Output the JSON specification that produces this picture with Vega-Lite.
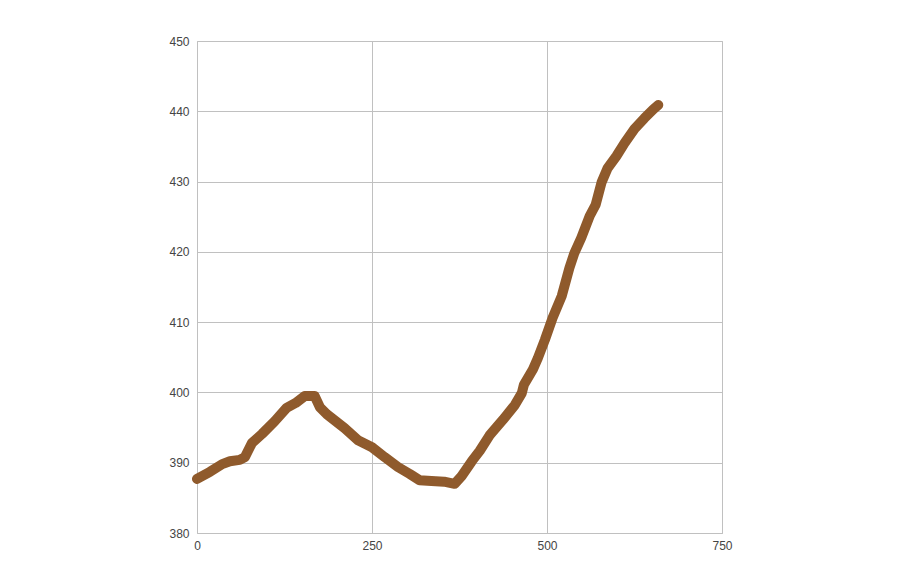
{
  "$schema": "https://vega.github.io/schema/vega-lite/v6.json",
  "autosize": {"type": "none"},
  "padding": {"left": 197, "top": 41, "right": 196, "bottom": 35},
  "width": 525,
  "height": 492,
  "config": {
    "view": {"stroke": "#c0c0c0", "strokeWidth": 1},
    "axis": {
      "labelFont": "Liberation Sans",
      "labelFontSize": 12,
      "labelColor": "#444444",
      "gridColor": "#c0c0c0",
      "gridOpacity": 1,
      "gridWidth": 1,
      "domain": false,
      "ticks": false,
      "title": null
    }
  },
  "data": {
    "values": [
      {"x": 0, "y": 387.7},
      {"x": 18.5, "y": 388.7},
      {"x": 36, "y": 389.8},
      {"x": 47, "y": 390.2},
      {"x": 61, "y": 390.4},
      {"x": 68.5, "y": 390.8},
      {"x": 78.5, "y": 392.8},
      {"x": 93, "y": 394.1},
      {"x": 111, "y": 395.9},
      {"x": 128, "y": 397.8},
      {"x": 141, "y": 398.5},
      {"x": 154, "y": 399.5},
      {"x": 168, "y": 399.5},
      {"x": 175.5, "y": 397.9},
      {"x": 185.5, "y": 396.9},
      {"x": 211, "y": 394.9},
      {"x": 230, "y": 393.2},
      {"x": 250, "y": 392.2},
      {"x": 268, "y": 390.8},
      {"x": 287, "y": 389.4},
      {"x": 304, "y": 388.4},
      {"x": 318, "y": 387.5},
      {"x": 335, "y": 387.4},
      {"x": 353, "y": 387.3},
      {"x": 368, "y": 387.0},
      {"x": 378, "y": 388.1},
      {"x": 392.5, "y": 390.2},
      {"x": 404, "y": 391.7},
      {"x": 418, "y": 393.9},
      {"x": 437, "y": 396.1},
      {"x": 454, "y": 398.2},
      {"x": 464, "y": 399.9},
      {"x": 467, "y": 401.1},
      {"x": 480, "y": 403.3},
      {"x": 487, "y": 404.9},
      {"x": 497, "y": 407.5},
      {"x": 508, "y": 410.6},
      {"x": 521, "y": 413.7},
      {"x": 532, "y": 417.7},
      {"x": 539, "y": 419.8},
      {"x": 549, "y": 422.0},
      {"x": 561, "y": 425.1},
      {"x": 569.5, "y": 426.7},
      {"x": 578, "y": 429.9},
      {"x": 586.5, "y": 431.9},
      {"x": 599, "y": 433.6},
      {"x": 611, "y": 435.5},
      {"x": 625, "y": 437.5},
      {"x": 639, "y": 439.0},
      {"x": 652, "y": 440.3},
      {"x": 659, "y": 440.9}
    ]
  },
  "mark": {"type": "line", "color": "#8f5a2c", "strokeWidth": 10, "strokeCap": "round", "strokeJoin": "round"},
  "encoding": {
    "x": {
      "field": "x", "type": "quantitative",
      "scale": {"domain": [0, 750], "nice": false, "zero": false},
      "axis": {"values": [0, 250, 500, 750], "labelPadding": 7, "labelFlush": false}
    },
    "y": {
      "field": "y", "type": "quantitative",
      "scale": {"domain": [380, 450], "nice": false, "zero": false},
      "axis": {"values": [380, 390, 400, 410, 420, 430, 440, 450], "labelPadding": 8}
    }
  }
}
